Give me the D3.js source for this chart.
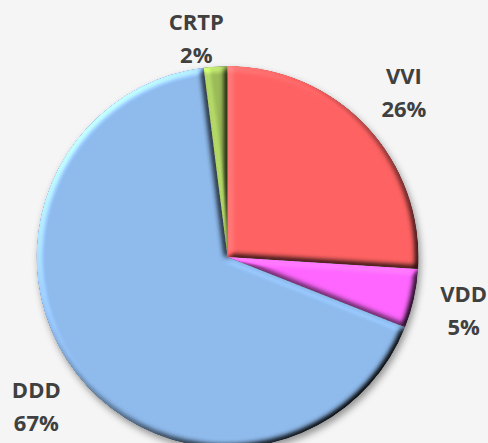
<!DOCTYPE html>
<html>
<head>
<meta charset="utf-8">
<script src="https://cdn.jsdelivr.net/npm/d3@7/dist/d3.min.js"></script>
<style>
  html, body { margin: 0; padding: 0; background: #f5f5f5; }
  svg { display: block; }
</style>
</head>
<body>
<svg id="chart" width="488" height="443"></svg>
<script>
const categories = ["VVI", "VDD", "DDD", "CRTP"];
const values = [26, 5, 67, 2];
const percentLabels = ["26%", "5%", "67%", "2%"];
const colors = ["#ff6262", "#ff66ff", "#8ebaec", "#9bbb59"];

const W = 488, H = 443;
const cx = 227.5, cy = 257, R = 191;
const svg = d3.select("#chart");

svg.append("rect").attr("width", W).attr("height", H).attr("fill", "#f5f5f5");

const defs = svg.append("defs");
// bevel filter
const gain = 1.3;
const bev = defs.append("filter").attr("id", "bevel")
  .attr("x", "-5%").attr("y", "-5%").attr("width", "110%").attr("height", "110%")
  .attr("color-interpolation-filters", "sRGB");
bev.append("feGaussianBlur").attr("in", "SourceAlpha").attr("stdDeviation", 3).attr("result", "blur");
const dl = bev.append("feDiffuseLighting").attr("in", "blur").attr("surfaceScale", 4)
  .attr("diffuseConstant", 1).attr("lighting-color", "#ffffff").attr("result", "light");
dl.append("feDistantLight").attr("azimuth", 225).attr("elevation", 45);
bev.append("feComposite").attr("in", "SourceGraphic").attr("in2", "light")
  .attr("operator", "arithmetic").attr("k1", gain).attr("k2", 1 - gain * Math.SQRT1_2)
  .attr("k3", 0).attr("k4", 0).attr("result", "lit");
bev.append("feComposite").attr("in", "lit").attr("in2", "SourceAlpha").attr("operator", "in");

// drop shadow
const sh = defs.append("filter").attr("id", "shadow")
  .attr("x", "-10%").attr("y", "-10%").attr("width", "120%").attr("height", "120%");
sh.append("feDropShadow").attr("dx", 2).attr("dy", 4).attr("stdDeviation", 3.5)
  .attr("flood-color", "#000").attr("flood-opacity", 0.4);

const pie = d3.pie().sort(null).value(d => d)(values);
const arc = d3.arc().innerRadius(0).outerRadius(R);

const g = svg.append("g").attr("transform", `translate(${cx},${cy})`).attr("filter", "url(#shadow)");
g.selectAll("path").data(pie).enter().append("path")
  .attr("d", arc)
  .attr("fill", (d, i) => colors[i])
  .attr("filter", "url(#bevel)");

// labels
const labelR = R + 51;
const fontSize = 22, lineGap = 33;
const lg = svg.append("g").attr("transform", `translate(${cx},${cy})`);
pie.forEach((d, i) => {
  const a = (d.startAngle + d.endAngle) / 2;
  let x = Math.sin(a) * labelR;
  let y = -Math.cos(a) * labelR;
  // keep block inside the top of the canvas
  const minY = -cy + 37;
  if (y < minY) { y = minY; x = x - 16; }
  const t = lg.append("text")
    .attr("x", x).attr("y", y)
    .attr("text-anchor", "middle")
    .attr("font-family", "'Open Sans', sans-serif")
    .attr("font-weight", "bold")
    .attr("font-size", fontSize)
    .attr("fill", "#404040");
  t.append("tspan").attr("x", x).attr("y", y - lineGap / 2 + 9).text(categories[i]);
  t.append("tspan").attr("x", x).attr("y", y + lineGap / 2 + 9).text(percentLabels[i]);
});
</script>
</body>
</html>
